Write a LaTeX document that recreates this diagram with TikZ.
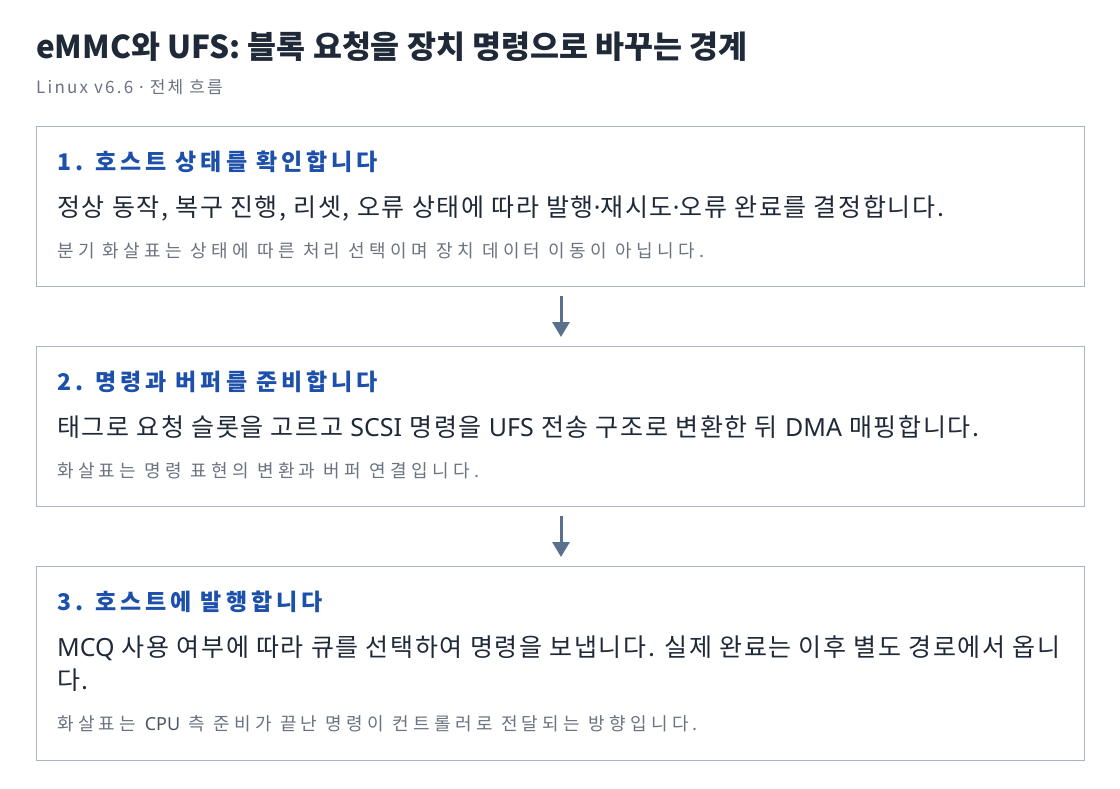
\documentclass[tikz,border=0pt]{standalone}
\usepackage{fontspec}
\setmainfont{Noto Sans CJK KR}
\newfontfamily\latf{Noto Sans}
\usetikzlibrary{arrows.meta}
\definecolor{titlec}{RGB}{31,41,55}
\definecolor{bodyc}{RGB}{31,41,55}
\definecolor{notec}{RGB}{107,114,128}
\definecolor{cpuc}{RGB}{75,85,99}
\definecolor{headc}{RGB}{28,80,170}
\definecolor{borderc}{RGB}{170,180,196}
\definecolor{arrowc}{RGB}{90,112,143}
\newcommand{\mdot}{{\latf ·}}
\tikzset{
  stepbox/.style={draw=borderc, line width=1pt, fill=white},
  heading/.style={anchor=base west, inner sep=0pt, text=headc, font=\fontsize{23}{27}\selectfont\bfseries\addfontfeature{LetterSpace=17}},
  body/.style={anchor=base west, inner sep=0pt, text=bodyc, font=\fontsize{25}{33}\selectfont\addfontfeature{LetterSpace=6.5}, align=left},
  note/.style={anchor=base west, inner sep=0pt, text=notec, font=\fontsize{18}{20}\selectfont\addfontfeature{LetterSpace=24}},
  subtitle/.style={anchor=base west, inner sep=0pt, text=notec, font=\fontsize{17}{20}\selectfont\addfontfeature{LetterSpace=13}},
  flow/.style={draw=arrowc, line width=3pt, -{Triangle[width=17pt,length=15pt]}}
}
\begin{document}
\begin{tikzpicture}[x=1pt,y=-1pt]
\useasboundingbox[fill=white] (0,0) rectangle (1120,788);
\node[anchor=base west, inner sep=0pt, text=titlec, font=\fontsize{31.5}{36}\selectfont\bfseries] (title) at (36,58) {eMMC와 UFS: 블록 요청을 장치 명령으로 바꾸는 경계};
\node[subtitle] (sub) at (36,93) {Linux v6.6 \mdot{} 전체 흐름};

\draw[stepbox] (36,126) rectangle (1084,286);
\node[heading] (h1) at (57,170) {1. 호스트 상태를 확인합니다};
\node[body] (t1) at (57,216) {정상 동작, 복구 진행, 리셋, 오류 상태에 따라 발행\mdot 재시도\mdot 오류 완료를 결정합니다.};
\node[note] (n1) at (57,257) {분기 화살표는 상태에 따른 처리 선택이며 장치 데이터 이동이 아닙니다.};

\draw[stepbox] (36,346) rectangle (1084,506);
\node[heading] (h2) at (57,390) {2. 명령과 버퍼를 준비합니다};
\node[body] (t2) at (57,436) {태그로 요청 슬롯을 고르고 {\latf SCSI} 명령을 {\latf UFS} 전송 구조로 변환한 뒤 {\latf DMA} 매핑합니다.};
\node[note] (n2) at (57,477) {화살표는 명령 표현의 변환과 버퍼 연결입니다.};

\draw[stepbox] (36,566) rectangle (1084,760);
\node[heading] (h3) at (57,610) {3. 호스트에 발행합니다};
\node[body] (t3) at (57,689) {{\latf MCQ} 사용 여부에 따라 큐를 선택하여 명령을 보냅니다. 실제 완료는 이후 별도 경로에서 옵니\\다.};
\node[note] (n3) at (57,730) {화살표는 {\latf\color{cpuc}CPU} 측 준비가 끝난 명령이 컨트롤러로 전달되는 방향입니다.};

\coordinate (a1s) at (561,296);
\coordinate (a1e) at (561,337);
\coordinate (a2s) at (561,516);
\coordinate (a2e) at (561,557);
\draw[flow] (a1s) -- (a1e);
\draw[flow] (a2s) -- (a2e);
\end{tikzpicture}
\end{document}
